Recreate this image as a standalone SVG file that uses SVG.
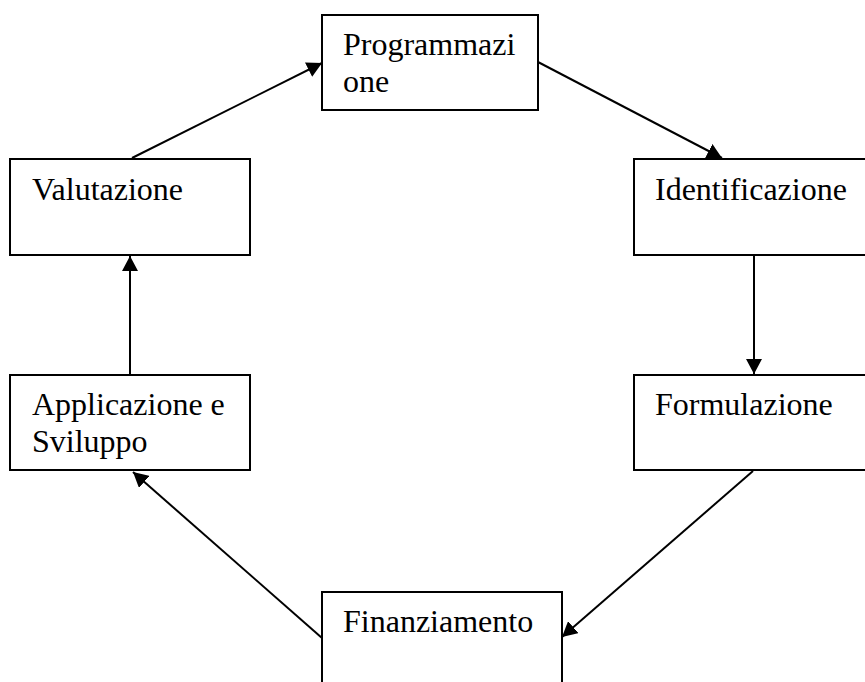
<svg xmlns="http://www.w3.org/2000/svg" width="865" height="682" viewBox="0 0 865 682">
<style>
.box{fill:#fff;stroke:#000;stroke-width:2}
.lbl{font-family:"Liberation Serif","Times New Roman",serif;font-size:32px;fill:#000}
.conn line{stroke:#000;stroke-width:2}
</style>
<defs>
<marker id="ah" markerUnits="userSpaceOnUse" markerWidth="16" markerHeight="16" refX="15" refY="8" orient="auto">
<path d="M0,0 L15,8 L0,16 z" fill="#000"/>
</marker>
</defs>
<g class="conn">
<line x1="132" y1="158" x2="322" y2="63" marker-end="url(#ah)"/>
<line x1="538" y1="62" x2="722" y2="158" marker-end="url(#ah)"/>
<line x1="754" y1="255" x2="754" y2="374" marker-end="url(#ah)"/>
<line x1="753" y1="471" x2="562" y2="637" marker-end="url(#ah)"/>
<line x1="322" y1="638" x2="133" y2="472" marker-end="url(#ah)"/>
<line x1="130" y1="375" x2="130" y2="256" marker-end="url(#ah)"/>
</g>
<g id="programmazione">
<rect class="box" x="322" y="15" width="216" height="95"/>
<text class="lbl" x="343" y="55">Programmazi</text>
<text class="lbl" x="343" y="92">one</text>
</g>
<g id="valutazione">
<rect class="box" x="10" y="159" width="240" height="96"/>
<text class="lbl" x="32" y="200">Valutazione</text>
</g>
<g id="identificazione">
<rect class="box" x="634" y="159" width="240" height="96"/>
<text class="lbl" x="655" y="200">Identificazione</text>
</g>
<g id="applicazione">
<rect class="box" x="10" y="375" width="240" height="95"/>
<text class="lbl" x="32" y="415">Applicazione e</text>
<text class="lbl" x="32" y="452">Sviluppo</text>
</g>
<g id="formulazione">
<rect class="box" x="634" y="375" width="240" height="95"/>
<text class="lbl" x="655" y="415">Formulazione</text>
</g>
<g id="finanziamento">
<rect class="box" x="322" y="592" width="240" height="100"/>
<text class="lbl" x="343" y="632">Finanziamento</text>
</g>
</svg>
